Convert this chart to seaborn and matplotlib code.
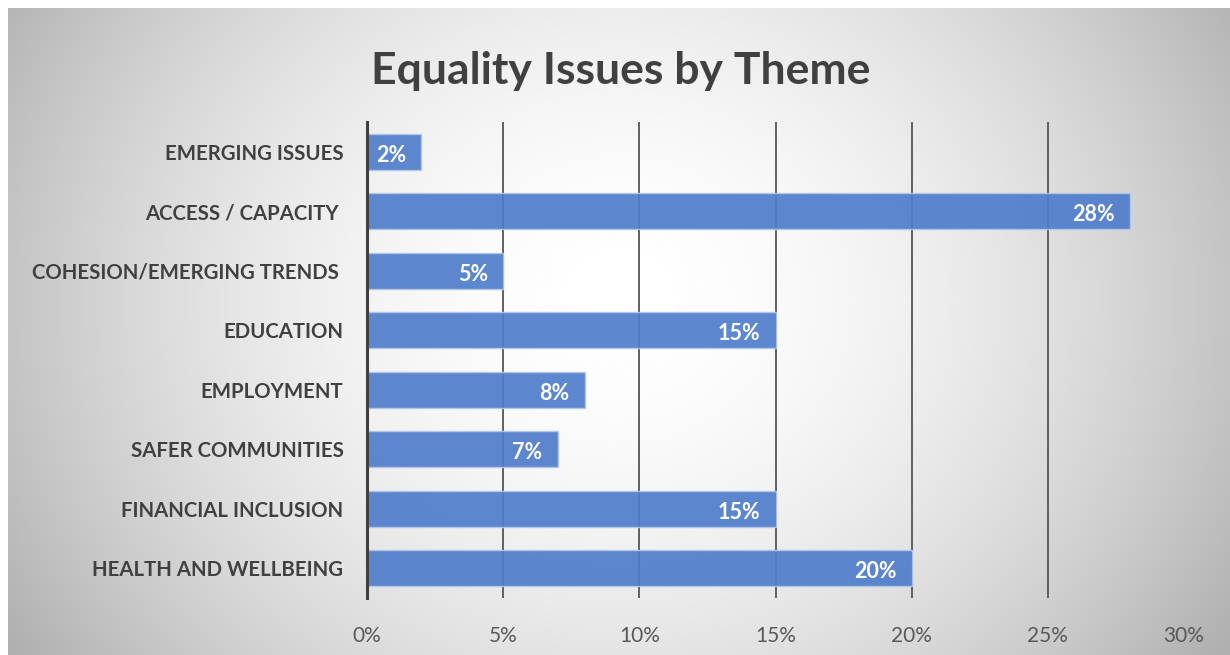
import numpy as np
import matplotlib.pyplot as plt
import seaborn as sns

# chart data
themes = ["EMERGING ISSUES", "ACCESS / CAPACITY ", "COHESION/EMERGING TRENDS ",
          "EDUCATION", "EMPLOYMENT", "SAFER COMMUNITIES",
          "FINANCIAL INCLUSION", "HEALTH AND WELLBEING"]
shares = [2, 28, 5, 15, 8, 7, 15, 20]
xticks = [0, 5, 10, 15, 20, 25, 30]

sns.set_style("white")
plt.rcParams['font.family'] = ['Lato', 'DejaVu Sans']

W, H = 1230, 655
fig = plt.figure(figsize=(W / 100, H / 100), dpi=100)
fig.patch.set_facecolor("white")

# radial-ish grey gradient panel behind the chart
bg = fig.add_axes([8 / W, 0, 1 - 8 / W, 1 - 8 / H], zorder=-5)
gx, gy = np.meshgrid(np.linspace(-1, 1, 400), np.linspace(-1, 1, 220))
d = np.sqrt(gx ** 2 + 0.35 * (gy + 0.1) ** 2)
shade = 1.0 - 0.23 * np.clip(d, 0, 1.3) ** 1.8
bg.imshow(shade, cmap="gray", vmin=0, vmax=1, aspect="auto",
          extent=[0, 1, 0, 1], interpolation="bicubic")
bg.set_axis_off()

ax = fig.add_axes([367 / W, 1 - 598 / H, (1184 - 367) / W, (598 - 122) / H])
ax.set_facecolor("none")

sns.barplot(x=shares, y=themes, orient="h", color="#4f7dcb", saturation=1,
            alpha=0.92, width=0.6, edgecolor="#b4c7e7", linewidth=1, ax=ax,
            zorder=3)

for i, v in enumerate(shares):
    ax.annotate(f"{v}%", xy=(v, i), xytext=(-11, -2.5), textcoords="offset points",
                ha="right", va="center", color="white", fontsize=15.5,
                fontweight="bold", zorder=5)

ax.set_xlim(0, 30)
ax.set_ylim(7.5, -0.5)
ax.set_xticks(xticks)
ax.set_xticklabels([f"{t}%" for t in xticks])
# gridlines only up to 25%, as in the original
for t in xticks[1:-1]:
    ax.axvline(t, color="#555555", linewidth=1.3, zorder=1)
ax.grid(False)
for s in ["top", "right", "bottom"]:
    ax.spines[s].set_visible(False)
ax.spines["left"].set_color("#404040")
ax.spines["left"].set_linewidth(2.2)
ax.spines["left"].set_zorder(6)
ax.tick_params(axis="x", length=0, pad=20, labelsize=15, labelcolor="#595959")
ax.tick_params(axis="y", length=0, pad=17, labelsize=14.7, labelcolor="#404040")
for lbl in ax.get_yticklabels():
    lbl.set_fontweight("bold")
ax.set_xlabel("")
ax.set_ylabel("")

fig.text(621 / W, 1 - 71 / H, "Equality Issues by Theme", ha="center", va="center",
         fontsize=32, fontweight="bold", color="#404040")

fig.savefig("out.png", dpi=100)
